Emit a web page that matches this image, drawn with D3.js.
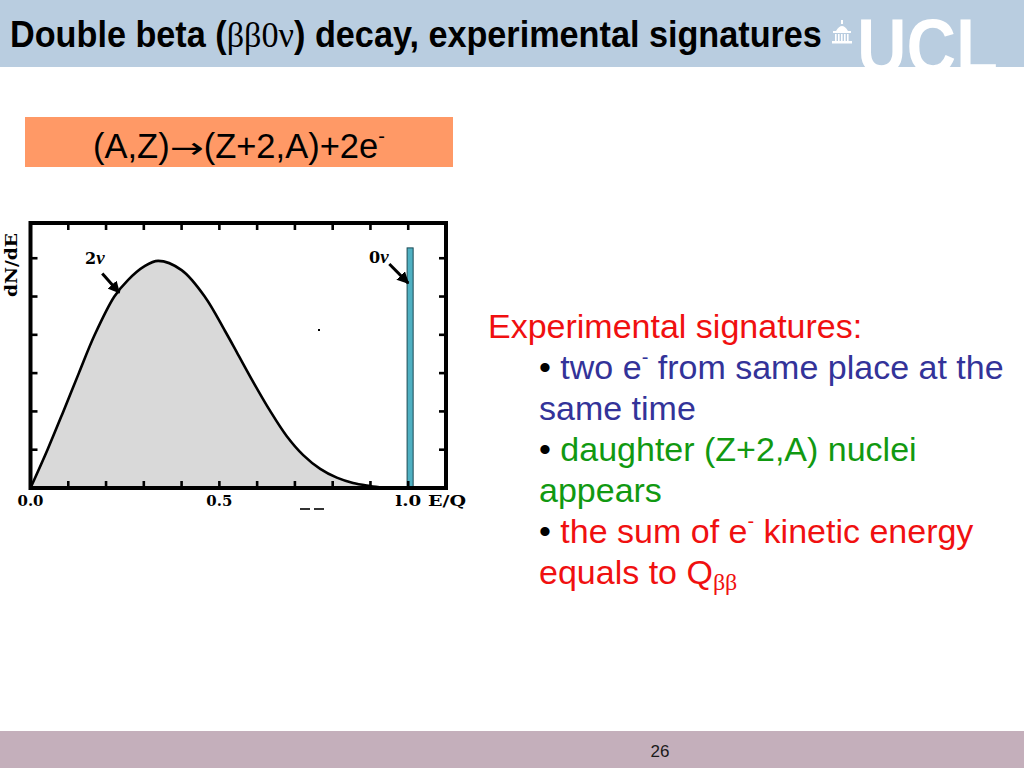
<!DOCTYPE html>
<html><head><meta charset="utf-8">
<script src="https://cdn.jsdelivr.net/npm/d3@7"></script>
<style>html,body{margin:0;padding:0;background:#fff;}svg{display:block;}text{white-space:pre;}</style>
</head><body>
<script>
// ---- data ----
const spectrumE = [0, 0.045, 0.087, 0.128, 0.170, 0.222, 0.258, 0.300, 0.338, 0.400, 0.462, 0.515, 0.546, 0.589, 0.634, 0.678, 0.722, 0.767, 0.811, 0.854, 0.899, 0.935];
const spectrumN = [0, 1.0, 2.0, 3.0, 4.0, 5.0, 5.43, 5.78, 5.93, 5.69, 4.99, 4.10, 3.55, 2.78, 2.02, 1.36, 0.86, 0.50, 0.27, 0.13, 0.05, 0.0];
const peak0nuE = 1.0;
const peak0nuN = 6.27;
const xMinorTicks = [0.1, 0.2, 0.3, 0.4, 0.5, 0.6, 0.7, 0.8, 0.9, 1.0];
const yMinorTicks = [1, 2, 3, 4, 5, 6];
const xTickLabels = [{v: 0.0, t: "0.0"}, {v: 0.5, t: "0.5"}, {v: 1.0, t: "l.0"}];
const xDomain = [0, 1.1];
const yDomain = [0, 6.92];

const svg = d3.select("body").append("svg").attr("width", 1024).attr("height", 768);

// ---- slide background ----
svg.append("rect").attr("x", 0).attr("y", 0).attr("width", 1024).attr("height", 67).attr("fill", "#b9cde0");
svg.append("rect").attr("x", 0).attr("y", 731).attr("width", 1024).attr("height", 37).attr("fill", "#c4afbb");
svg.append("text").attr("x", 660).attr("y", 757).attr("text-anchor", "middle")
  .attr("font-family", "Liberation Sans Narrow, Liberation Sans, Arial").attr("font-size", 17).attr("fill", "#1a1a1a").text("26");

// sequential text pieces (measured, no overlap)
function seqText(parent, x0, y0, pieces) {
  let cx = x0;
  pieces.forEach(p => {
    const t = parent.append("text").attr("x", cx).attr("y", y0 + (p.dy || 0))
      .attr("xml:space", "preserve").style("white-space", "pre")
      .attr("font-family", p.ff).attr("font-size", p.fs).attr("font-weight", p.fw || "normal")
      .attr("font-style", p.fst || "normal")
      .attr("fill", p.c || "#000").text(p.t);
    if (p.w) { t.attr("textLength", p.w).attr("lengthAdjust", "spacingAndGlyphs"); cx += p.w; }
    else cx += t.node().getComputedTextLength();
  });
  return cx - x0;
}

// title (condensed to the reference width)
const titleG = svg.append("g");
const sansB = "Liberation Sans Narrow, Liberation Sans, Arial";
const tw = seqText(titleG, 0, 0, [
  {t: "Double beta (", ff: sansB, fs: 36, fw: "bold"},
  {t: "ββ0ν", ff: "Liberation Serif, serif", fs: 36},
  {t: ") decay, experimental signatures", ff: sansB, fs: 36, fw: "bold"}
]);
titleG.attr("transform", `translate(10,47) scale(${812 / tw},1)`);

// UCL logo
svg.append("text").attr("x", 857).attr("y", 73)
  .attr("font-family", "Liberation Sans, Arial").attr("font-weight", "bold").attr("font-size", 78)
  .attr("fill", "#fff").attr("textLength", 141).attr("lengthAdjust", "spacingAndGlyphs").text("UCL");
const bld = svg.append("g").attr("fill", "#fff");
bld.append("path").attr("d", "M836,31 Q842,21 848,31 Z");
bld.append("rect").attr("x", 841).attr("y", 20).attr("width", 2).attr("height", 4);
bld.append("rect").attr("x", 833).attr("y", 31).attr("width", 18).attr("height", 2);
[835, 838, 841, 844, 847].forEach(cx => bld.append("rect").attr("x", cx).attr("y", 34).attr("width", 1.6).attr("height", 7));
bld.append("rect").attr("x", 832).attr("y", 41).attr("width", 20).attr("height", 2.5);

// orange reaction box
svg.append("rect").attr("x", 25).attr("y", 117).attr("width", 428).attr("height", 50).attr("fill", "#ff9966");
const sans = "Liberation Sans, Arial";
seqText(svg, 93, 158, [
  {t: "(A,Z)", ff: sans, fs: 34.5},
  {t: "→", ff: "DejaVu Sans, sans-serif", fs: 29, w: 34},
  {t: "(Z+2,A)+2e", ff: sans, fs: 34.5},
  {t: "-", ff: sans, fs: 20, dy: -15}
]);

// ---- chart ----
const x = d3.scaleLinear().domain(xDomain).range([30.5, 446]);
const y = d3.scaleLinear().domain(yDomain).range([488, 223]);
const pts = spectrumE.map((e, i) => [e, spectrumN[i]]);

const area = d3.area().x(d => x(d[0])).y0(y(0)).y1(d => y(d[1])).curve(d3.curveCatmullRom.alpha(0.5));
const line = d3.line().x(d => x(d[0])).y(d => y(d[1])).curve(d3.curveCatmullRom.alpha(0.5));
svg.append("path").datum(pts).attr("d", area).attr("fill", "#d9d9d9");
svg.append("path").datum(pts).attr("d", line).attr("fill", "none").attr("stroke", "#000").attr("stroke-width", 2.6);

// 0nu peak
svg.append("rect").attr("x", x(peak0nuE - 0.003)).attr("y", y(peak0nuN))
  .attr("width", x(peak0nuE + 0.013) - x(peak0nuE - 0.003)).attr("height", y(0) - y(peak0nuN))
  .attr("fill", "#4fb0c2").attr("stroke", "#1d4a55").attr("stroke-width", 1);

// frame
svg.append("rect").attr("x", x(xDomain[0])).attr("y", y(yDomain[1]))
  .attr("width", x(xDomain[1]) - x(xDomain[0])).attr("height", y(yDomain[0]) - y(yDomain[1]))
  .attr("fill", "none").attr("stroke", "#000").attr("stroke-width", 4);

// ticks
const tk = svg.append("g").attr("stroke", "#000").attr("stroke-width", 2.6);
xMinorTicks.forEach(v => {
  tk.append("line").attr("x1", x(v)).attr("x2", x(v)).attr("y1", y(0)).attr("y2", y(0) - 7);
  tk.append("line").attr("x1", x(v)).attr("x2", x(v)).attr("y1", y(yDomain[1])).attr("y2", y(yDomain[1]) + 7);
});
yMinorTicks.forEach(v => {
  tk.append("line").attr("x1", x(0)).attr("x2", x(0) + 7).attr("y1", y(v)).attr("y2", y(v));
  tk.append("line").attr("x1", x(xDomain[1])).attr("x2", x(xDomain[1]) - 7).attr("y1", y(v)).attr("y2", y(v));
});

// axis labels
const serif = "DejaVu Serif, Liberation Serif, serif";
xTickLabels.forEach(d => {
  svg.append("text").attr("x", x(d.v)).attr("y", 506).attr("text-anchor", "middle")
    .attr("font-family", serif).attr("font-weight", "bold").attr("font-size", 15).attr("fill", "#000")
    .attr("textLength", 26).attr("lengthAdjust", "spacingAndGlyphs").text(d.t);
});
svg.append("text").attr("x", 447).attr("y", 506).attr("text-anchor", "middle")
  .attr("font-family", serif).attr("font-weight", "bold").attr("font-size", 15).attr("fill", "#000")
  .attr("textLength", 38).attr("lengthAdjust", "spacingAndGlyphs").text("E/Q");
svg.append("text").attr("transform", "translate(17,265) rotate(-90)").attr("text-anchor", "middle")
  .attr("font-family", serif).attr("font-weight", "bold").attr("font-size", 16).attr("fill", "#000")
  .attr("textLength", 64).attr("lengthAdjust", "spacingAndGlyphs").text("dN/dE");
svg.append("rect").attr("x", 300).attr("y", 508).attr("width", 10).attr("height", 2).attr("fill", "#333");
svg.append("rect").attr("x", 314).attr("y", 508).attr("width", 10).attr("height", 2).attr("fill", "#333");
svg.append("rect").attr("x", 318).attr("y", 329).attr("width", 2).attr("height", 2).attr("fill", "#000");

// annotations
svg.append("defs").append("marker").attr("id", "ah").attr("viewBox", "0 0 10 10").attr("refX", 9).attr("refY", 5)
  .attr("markerWidth", 4).attr("markerHeight", 4).attr("orient", "auto")
  .append("path").attr("d", "M0,0 L10,5 L0,10 Z").attr("fill", "#000");
const lbl = (tx, ty, num) => {
  seqText(svg, tx, ty, [
    {t: num, ff: serif, fs: 16, fw: "bold"},
    {t: "ν", ff: "Liberation Serif, serif", fs: 19, fw: "bold", fst: "italic"}
  ]);
};
lbl(85, 264, "2");
lbl(369, 263, "0");
svg.append("line").attr("x1", x(0.19)).attr("y1", y(5.6)).attr("x2", x(0.235)).attr("y2", y(5.1))
  .attr("stroke", "#000").attr("stroke-width", 3).attr("marker-end", "url(#ah)");
svg.append("line").attr("x1", x(0.95)).attr("y1", y(5.85)).attr("x2", x(1.0)).attr("y2", y(5.35))
  .attr("stroke", "#000").attr("stroke-width", 3).attr("marker-end", "url(#ah)");

// right-hand text
const fs = 34;
const red = "#f01010", blue = "#333399", green = "#119911";
const L = (ty, parts, xx) => seqText(svg, xx, ty, parts.map(p => Object.assign({ff: sans, fs: fs}, p)));
L(338, [{t: "Experimental signatures:", c: red}], 488);
L(379, [{t: "• ", c: "#000"}, {t: "two e", c: blue}, {t: "-", c: blue, fs: 20, dy: -15}, {t: " from same place at the", c: blue}], 539);
L(420, [{t: "same time", c: blue}], 539);
L(461, [{t: "• ", c: "#000"}, {t: "daughter (Z+2,A) nuclei", c: green}], 539);
L(502, [{t: "appears", c: green}], 539);
L(543, [{t: "• ", c: "#000"}, {t: "the sum of e", c: red}, {t: "-", c: red, fs: 20, dy: -15}, {t: " kinetic energy", c: red}], 539);
L(584, [{t: "equals to Q", c: red}, {t: "ββ", c: red, ff: "Liberation Serif, serif", fs: 24, dy: 6}], 539);
</script>
</body></html>
